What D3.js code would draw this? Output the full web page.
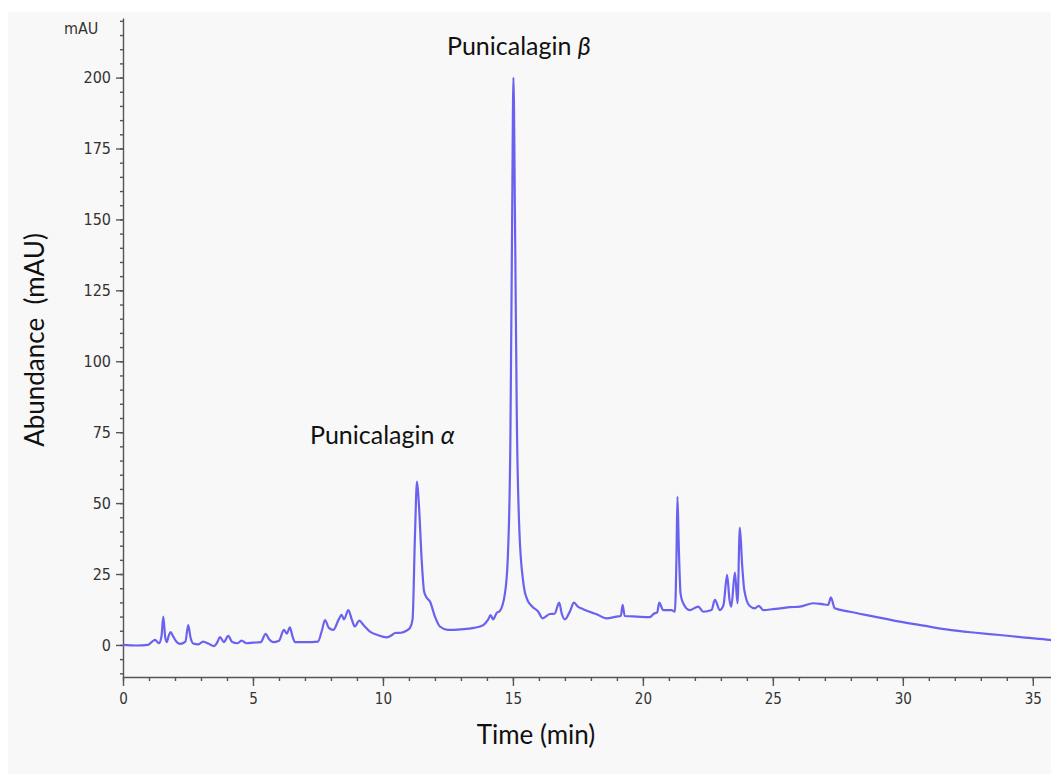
<!DOCTYPE html>
<html>
<head>
<meta charset="utf-8">
<script src="https://cdn.jsdelivr.net/npm/d3@7"></script>
<style>
  body { margin: 0; background: #ffffff; }
  svg { display: block; }
  .tick text { font-family: "Liberation Sans Narrow", "DejaVu Sans Condensed", sans-serif; font-stretch: condensed; fill: #333; }
  .label { font-family: Lato, "Open Sans", sans-serif; fill: #111; white-space: pre; }
</style>
</head>
<body>
<div id="chart"></div>
<script>
// retention time (min) and detector signal (mAU)
var times = [0, 0.5, 0.96, 1.1, 1.23, 1.38, 1.48, 1.55, 1.62, 1.68, 1.77, 1.83, 1.93, 2.05, 2.19, 2.4, 2.51, 2.6, 2.7, 2.9,
    3.08, 3.3, 3.5, 3.62, 3.73, 3.88, 4.05, 4.2, 4.4, 4.56, 4.75, 5.0, 5.3, 5.49, 5.62, 5.77, 6.0, 6.19, 6.3, 6.42,
    6.52, 6.62, 7.0, 7.5, 7.65, 7.77, 7.92, 8.09, 8.3, 8.41, 8.5, 8.67, 8.8, 8.92, 9.09, 9.25, 9.5, 9.8, 10.14, 10.35,
    10.46, 10.7, 10.9, 11.04, 11.14, 11.23, 11.31, 11.38, 11.49, 11.58, 11.66, 11.81, 12.0, 12.19, 12.5, 13.0, 13.5, 13.86, 14.05, 14.14,
    14.24, 14.37, 14.5, 14.69, 14.8, 14.9, 14.97, 15.02, 15.08, 15.15, 15.25, 15.4, 15.55, 15.75, 15.97, 16.14, 16.42, 16.6, 16.78, 16.88,
    17.0, 17.2, 17.35, 17.5, 17.7, 18.0, 18.2, 18.6, 18.99, 19.15, 19.22, 19.3, 19.76, 20.27, 20.42, 20.55, 20.63, 20.78, 21.1, 21.23,
    21.29, 21.33, 21.38, 21.45, 21.55, 21.8, 22.13, 22.32, 22.64, 22.77, 22.96, 23.1, 23.24, 23.33, 23.4, 23.54, 23.64, 23.73, 23.82, 23.9,
    24.1, 24.31, 24.46, 24.63, 25.0, 25.65, 26.04, 26.55, 26.9, 27.13, 27.23, 27.38, 27.96, 28.9, 29.88, 30.8, 31.8, 32.8, 33.73, 34.7,
    35.65, 35.8];

var abundance = [0, -0.2, 0, 1, 1.8, 0.6, 3, 10, 3, 1, 3.5, 4.5, 3, 1.2, 0.4, 1.2, 7, 2.5, 0.5, 0.2,
    1.2, 0.4, -0.4, 0.8, 2.8, 1, 3.2, 1, 0.6, 1.5, 0.6, 0.8, 1, 3.9, 2, 1, 1.5, 5.3, 4, 6.2,
    3, 1, 1, 1.2, 5, 8.8, 6, 5.3, 9, 10.6, 9, 12.3, 9, 6.5, 8.6, 7, 4.7, 3.5, 2.7, 3.5,
    4.2, 4.3, 5, 6, 9, 38, 57.6, 50, 30, 19, 17, 15.3, 10, 6.5, 5.3, 5.5, 6, 7, 9, 10.5,
    9, 11.2, 12, 18, 30, 70, 150, 200, 150, 80, 40, 22, 16, 13.5, 11.8, 9.4, 10.9, 11, 14.9, 11,
    9, 12, 14.9, 13.5, 12.6, 11.5, 10.9, 9.4, 10, 10.2, 14.1, 10.2, 10, 9.8, 11, 11.5, 14.9, 12.3, 12.3, 11.7,
    30, 52.3, 35, 18, 14.7, 12.3, 13.5, 11.7, 12.3, 15.9, 12.3, 14, 24.7, 16, 13.5, 25.5, 14.7, 41.4, 28, 19.4,
    13.8, 12.9, 13.8, 12.3, 12.6, 13.3, 13.5, 14.7, 14.4, 14.1, 16.8, 12.9, 11.7, 10, 8.2, 6.8, 5.3, 4.3, 3.5, 2.6,
    1.8, 1.6];

var yMajorTicks = [0, 25, 50, 75, 100, 125, 150, 175, 200];
var xMajorTicks = [0, 5, 10, 15, 20, 25, 30, 35];

var peakNames = ["Punicalagin ", "Punicalagin "];
var peakSymbols = ["\u03b1", "\u03b2"];

var svgWidth = 1051;
var svgHeight = 774;

var svg = d3.select("#chart")
    .append("svg")
    .attr("width", svgWidth)
    .attr("height", svgHeight);

// scanned-page look: grey sheet with a white strip on top
svg.append("rect")
    .attr("x", 0).attr("y", 0)
    .attr("width", svgWidth).attr("height", svgHeight)
    .attr("fill", "#ffffff");
svg.append("rect")
    .attr("x", 8).attr("y", 12)
    .attr("width", svgWidth - 8).attr("height", svgHeight - 12)
    .attr("fill", "#f8f8f8");

var xScale = d3.scaleLinear()
    .domain([0, 35.7])
    .range([123, 1051]);

var yScale = d3.scaleLinear()
    .domain([-11.3, 221])
    .range([677, 18]);

// minor ticks first, then the labelled ones
svg.append("g")
    .attr("transform", "translate(0, 677)")
    .call(d3.axisBottom(xScale).tickValues(d3.range(0, 36, 1)).tickSize(4).tickFormat(""))
    .call(g => g.select(".domain").remove());

svg.append("g")
    .attr("transform", "translate(123, 0)")
    .call(d3.axisLeft(yScale).tickValues(d3.range(-10, 221, 5)).tickSize(3).tickFormat(""))
    .call(g => g.select(".domain").remove());

var xAxis = svg.append("g")
    .attr("transform", "translate(0, 677)")
    .call(d3.axisBottom(xScale).tickValues(xMajorTicks).tickSize(9).tickSizeOuter(0).tickPadding(7));
xAxis.selectAll("text").style("font-size", "15px");

var yAxis = svg.append("g")
    .attr("transform", "translate(123, 0)")
    .call(d3.axisLeft(yScale).tickValues(yMajorTicks).tickSize(7).tickSizeOuter(0).tickPadding(5));
yAxis.selectAll("text").style("font-size", "16px");

svg.selectAll(".domain, .tick line")
    .attr("stroke", "#555")
    .attr("stroke-width", 1.4);

var trace = times.map((t, i) => ({ t: t, v: abundance[i] }));

var line = d3.line()
    .x(d => xScale(d.t))
    .y(d => yScale(d.v))
    .curve(d3.curveMonotoneX);

svg.append("path")
    .datum(trace)
    .attr("d", line)
    .attr("fill", "none")
    .attr("stroke", "#6a62ee")
    .attr("stroke-width", 2.2)
    .attr("stroke-linejoin", "round");

// unit label at the top of the y axis
svg.append("text")
    .attr("x", 64)
    .attr("y", 34)
    .style("font-family", "\"Liberation Sans Narrow\", \"DejaVu Sans Condensed\", sans-serif")
    .style("font-size", "16px")
    .style("fill", "#333")
    .text("mAU");

svg.append("text")
    .attr("class", "label")
    .attr("transform", "translate(44, 340) rotate(-90)")
    .attr("text-anchor", "middle")
    .style("font-size", "26px")
    .text("Abundance  (mAU)");

svg.append("text")
    .attr("class", "label")
    .attr("x", 536)
    .attr("y", 744)
    .attr("text-anchor", "middle")
    .style("font-size", "26px")
    .text("Time (min)");

// peak annotations
var peakPos = [[310, 444], [447, 55]];
peakPos.forEach(function (p, i) {
    var t = svg.append("text")
        .attr("class", "label")
        .attr("x", p[0])
        .attr("y", p[1])
        .style("font-size", "25px");
    t.append("tspan").text(peakNames[i]);
    t.append("tspan").style("font-style", "italic").text(peakSymbols[i]);
});
</script>
</body>
</html>
